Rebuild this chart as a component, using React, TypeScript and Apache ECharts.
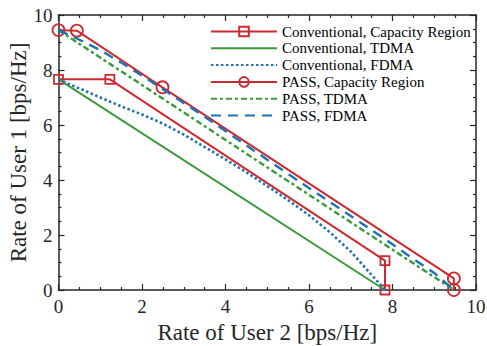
import React, { useEffect, useRef } from "react";
import * as echarts from "echarts";

const convCapX = [0, 1.23, 7.82, 7.82];
const convCapY = [7.66, 7.66, 1.07, 0];
const convTdmaX = [0, 7.82];
const convTdmaY = [7.66, 0];
const convFdmaX = [0, 0.5, 1.0, 1.5, 2.0, 2.5, 3.0, 3.5, 4.0, 4.5, 5.0, 5.5, 6.0, 6.5, 7.0, 7.5, 7.82];
const convFdmaY = [7.66, 7.33, 7.0, 6.68, 6.38, 6.05, 5.65, 5.2, 4.75, 4.28, 3.78, 3.27, 2.72, 2.1, 1.4, 0.55, 0];
const passCapX = [0, 0.44, 2.49, 9.47, 9.47];
const passCapY = [9.45, 9.43, 7.37, 0.42, 0];
const passTdmaX = [0, 9.47];
const passTdmaY = [9.45, 0];
const passFdmaX = [0, 0.5, 1.0, 1.5, 2.0, 2.5, 3.0, 3.5, 4.0, 4.5, 5.0, 5.5, 6.0, 6.5, 7.0, 7.5, 8.0, 8.5, 9.0, 9.47];
const passFdmaY = [9.45, 9.1, 8.72, 8.27, 7.8, 7.3, 6.8, 6.3, 5.78, 5.26, 4.74, 4.22, 3.71, 3.2, 2.69, 2.18, 1.66, 1.13, 0.62, 0];
const xTicks = [0, 2, 4, 6, 8, 10];
const yTicks = [0, 2, 4, 6, 8, 10];
const seriesNames = [
  "Conventional, Capacity Region",
  "Conventional, TDMA",
  "Conventional, FDMA",
  "PASS, Capacity Region",
  "PASS, TDMA",
  "PASS, FDMA",
];
const hasMarker = [true, false, false, true, false, false];

const RED = "#cc2a30";
const GREEN = "#3a9a3a";
const BLUE = "#1f72b4";
const FONT = "Liberation Serif";

const zip = (xs: number[], ys: number[]) => xs.map((x, i) => [x, ys[i]]);

export default function App() {
  const ref = useRef<HTMLDivElement>(null);
  useEffect(() => {
    if (!ref.current) return;
    const chart = echarts.init(ref.current, null, { renderer: "svg" });
    const baseAxis = {
      type: "value" as const,
      min: 0,
      max: 10,
      interval: 2,
      splitLine: { show: false },
      axisLine: { show: true, onZero: false, lineStyle: { color: "#262626", width: 1.5 } },
      axisTick: { show: true, inside: true, length: 6, lineStyle: { color: "#262626", width: 1.2 } },
      minorTick: { show: true, splitNumber: 4, length: 3, lineStyle: { color: "#262626", width: 1.2 } },
    };
    const line = (name: string, data: number[][], color: string, type: any, width: number, symbol: string, size: number, z: number) => ({
      name,
      type: "line",
      data,
      symbol,
      symbolSize: size,
      showSymbol: symbol !== "none",
      z,
      lineStyle: { color, width, type },
      itemStyle: { color: "rgba(0,0,0,0)", borderColor: color, borderWidth: 1.8 },
      emphasis: { disabled: true },
    });
    chart.setOption({
      animation: false,
      grid: { left: 58.5, right: 11, top: 15, bottom: 56, containLabel: false, outerBoundsMode: "none" },
      legend: {
        orient: "vertical",
        left: 210,
        top: 24,
        padding: 0,
        itemWidth: 66,
        itemHeight: 12,
        itemGap: 1.8,
        data: seriesNames.map((n, i) =>
          hasMarker[i]
            ? { name: n }
            : { name: n, itemStyle: { color: "rgba(0,0,0,0)", borderColor: "rgba(0,0,0,0)", borderWidth: 0, opacity: 0 } }
        ),
        textStyle: { fontFamily: FONT, fontSize: 15, color: "#000", lineHeight: 15 },
      },
      xAxis: [
        {
          ...baseAxis,
          position: "bottom",
          name: "Rate of User 2 [bps/Hz]",
          nameLocation: "middle",
          nameGap: 21,
          nameTextStyle: { fontFamily: FONT, fontSize: 23, color: "#262626" },
          axisLabel: {
            fontFamily: FONT,
            fontSize: 19,
            color: "#262626",
            margin: 7,
            formatter: (v: number) => (xTicks.includes(v) ? String(v) : ""),
          },
        },
        { ...baseAxis, position: "top", axisLabel: { show: false } },
      ],
      yAxis: [
        {
          ...baseAxis,
          position: "left",
          name: "Rate of User 1 [bps/Hz]",
          nameLocation: "middle",
          nameGap: 29,
          nameMoveOverlap: false,
          nameTextStyle: { fontFamily: FONT, fontSize: 23, color: "#262626" },
          axisLabel: {
            fontFamily: FONT,
            fontSize: 19,
            color: "#262626",
            margin: 6,
            formatter: (v: number) => (yTicks.includes(v) ? String(v) : ""),
          },
        },
        { ...baseAxis, position: "right", axisLabel: { show: false } },
      ],
      series: [
        line(seriesNames[0], zip(convCapX, convCapY), RED, "solid", 2, "rect", 9, 2),
        line(seriesNames[1], zip(convTdmaX, convTdmaY), GREEN, "solid", 2, "none", 0, 3),
        line(seriesNames[2], zip(convFdmaX, convFdmaY), BLUE, [2.5, 2.5], 2.6, "none", 0, 4),
        line(seriesNames[3], zip(passCapX, passCapY), RED, "solid", 2, "circle", 12, 5),
        line(seriesNames[4], zip(passTdmaX, passTdmaY), GREEN, [6, 3, 3, 3], 2.4, "none", 0, 6),
        line(seriesNames[5], zip(passFdmaX, passFdmaY), BLUE, [10, 7], 2.4, "none", 0, 7),
      ],
    });
    return () => chart.dispose();
  }, []);
  return <div ref={ref} style={{ position: "absolute", left: 0, top: 0, width: 487, height: 346 }} />;
}
